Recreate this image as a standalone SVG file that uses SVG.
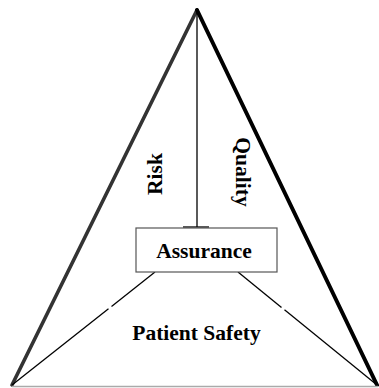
<svg xmlns="http://www.w3.org/2000/svg" width="379" height="388" viewBox="0 0 379 388">
<style>
  .lbl { font-family: "Liberation Serif", "Times New Roman", serif; font-weight: bold; font-size: 21.5px; fill: #000; }
  .thin { stroke: #000; stroke-width: 1.3; fill: none; }
</style>
<rect width="379" height="388" fill="#fff"/>
<g id="triangle">
  <line x1="12" y1="385" x2="197" y2="10" stroke="#333" stroke-width="3.6" stroke-linecap="round"/>
  <line x1="197" y1="10" x2="377" y2="385" stroke="#000" stroke-width="4" stroke-linecap="round"/>
  <line x1="12" y1="386.5" x2="378" y2="386.5" stroke="#aaa" stroke-width="1.3"/>
</g>
<g id="connectors">
  <line class="thin" x1="197" y1="10" x2="197" y2="227"/>
  <line class="thin" x1="183" y1="227" x2="209" y2="227"/>
  <line class="thin" x1="155" y1="272" x2="111.5" y2="306.4"/>
  <line class="thin" x1="108.5" y1="308.8" x2="12" y2="385"/>
  <line class="thin" x1="238" y1="272" x2="281.5" y2="307.4"/>
  <line class="thin" x1="284.5" y1="309.8" x2="377" y2="385"/>
</g>
<g id="assurance">
  <rect x="136" y="228" width="141" height="44" fill="#fff" stroke="#555" stroke-width="1.2"/>
  <text class="lbl" x="204" y="258" text-anchor="middle">Assurance</text>
</g>
<g id="patient-safety">
  <text class="lbl" x="196.5" y="340" text-anchor="middle">Patient Safety</text>
</g>
<g id="risk">
  <text class="lbl" transform="translate(162 174) rotate(-90)" text-anchor="middle">Risk</text>
</g>
<g id="quality">
  <text class="lbl" transform="translate(236 172) rotate(90)" text-anchor="middle">Quality</text>
</g>
</svg>
